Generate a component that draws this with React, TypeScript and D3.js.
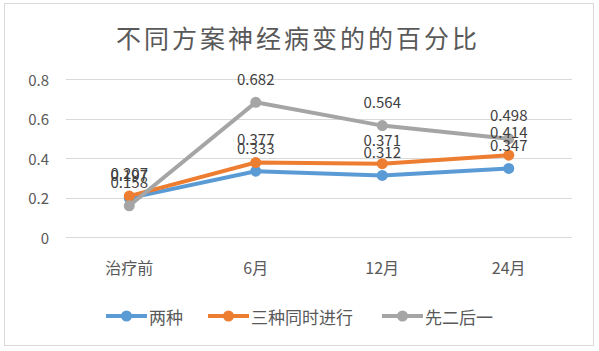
import { useEffect, useRef } from 'react';
import * as d3 from 'd3';

const categories = ['治疗前', '6月', '12月', '24月'];
const seriesNames = ['两种', '三种同时进行', '先二后一'];
const liangZhong = [0.197, 0.333, 0.312, 0.347];
const sanZhong = [0.207, 0.377, 0.371, 0.414];
const xianErHouYi = [0.158, 0.682, 0.564, 0.498];
const yTicks = [0, 0.2, 0.4, 0.6, 0.8];

const colors = ['#5B9BD5', '#ED7D31', '#A5A5A5'];
const FONT = '"Noto Sans CJK SC", "Noto Sans", sans-serif';

export default function App() {
    const svgRef = useRef<SVGSVGElement>(null);

    useEffect(() => {
        if (!svgRef.current) return;
        const svg = d3.select(svgRef.current);
        svg.selectAll('*').remove();

        const width = 599;
        const height = 351;
        const plot = { left: 66, right: 572, top: 79, bottom: 237 };
        const allSeries = [liangZhong, sanZhong, xianErHouYi];

        // chart frame
        svg.append('rect')
            .attr('x', 4.5).attr('y', 3.5)
            .attr('width', 589).attr('height', 342)
            .attr('fill', '#fff')
            .attr('stroke', '#d9d9d9')
            .attr('stroke-width', 1);

        // title
        svg.append('text')
            .attr('x', 298).attr('y', 37)
            .attr('text-anchor', 'middle')
            .attr('dominant-baseline', 'central')
            .attr('font-family', FONT)
            .attr('font-size', '25px')
            .attr('letter-spacing', '3px')
            .attr('fill', '#595959')
            .text('不同方案神经病变的的百分比');

        const xScale = d3.scaleBand()
            .domain(categories)
            .range([plot.left, plot.right]);

        const yScale = d3.scaleLinear()
            .domain([0, 0.8])
            .range([plot.bottom, plot.top]);

        const cx = (c: string) => (xScale(c) || 0) + xScale.bandwidth() / 2;

        // grid lines
        svg.append('g')
            .selectAll('line')
            .data(yTicks)
            .enter()
            .append('line')
            .attr('x1', plot.left).attr('x2', plot.right)
            .attr('y1', d => Math.round(yScale(d)) + 0.5)
            .attr('y2', d => Math.round(yScale(d)) + 0.5)
            .attr('stroke', '#d9d9d9')
            .attr('stroke-width', 1);

        // y tick labels
        svg.append('g')
            .selectAll('text')
            .data(yTicks)
            .enter()
            .append('text')
            .attr('x', 49)
            .attr('y', d => yScale(d))
            .attr('text-anchor', 'end')
            .attr('dominant-baseline', 'central')
            .attr('font-family', FONT)
            .attr('font-size', '15px')
            .attr('fill', '#595959')
            .text(d => (d === 0 ? '0' : d.toFixed(1)));

        // x labels
        svg.append('g')
            .selectAll('text')
            .data(categories)
            .enter()
            .append('text')
            .attr('x', d => cx(d))
            .attr('y', 267)
            .attr('text-anchor', 'middle')
            .attr('dominant-baseline', 'central')
            .attr('font-family', FONT)
            .attr('font-size', '16px')
            .attr('fill', '#595959')
            .text(d => d);

        const line = d3.line<number>()
            .x((_, i) => cx(categories[i]))
            .y(d => yScale(d));

        // lines + markers
        allSeries.forEach((values, si) => {
            svg.append('path')
                .datum(values)
                .attr('d', line)
                .attr('fill', 'none')
                .attr('stroke', colors[si])
                .attr('stroke-width', 4)
                .attr('stroke-linejoin', 'round')
                .attr('stroke-linecap', 'round');

            svg.append('g')
                .selectAll('circle')
                .data(values)
                .enter()
                .append('circle')
                .attr('cx', (_, i) => cx(categories[i]))
                .attr('cy', d => yScale(d))
                .attr('r', 5.5)
                .attr('fill', colors[si]);
        });

        // data labels
        allSeries.forEach(values => {
            svg.append('g')
                .selectAll('text')
                .data(values)
                .enter()
                .append('text')
                .attr('x', (_, i) => cx(categories[i]))
                .attr('y', d => yScale(d) - 24)
                .attr('text-anchor', 'middle')
                .attr('dominant-baseline', 'central')
                .attr('font-family', FONT)
                .attr('font-size', '15px')
                .attr('fill', '#404040')
                .text(d => d.toFixed(3));
        });

        // legend
        const legendX = [106, 208, 382];
        const legend = svg.append('g');
        seriesNames.forEach((name, i) => {
            const x0 = legendX[i];
            legend.append('line')
                .attr('x1', x0).attr('x2', x0 + 41)
                .attr('y1', 316).attr('y2', 316)
                .attr('stroke', colors[i])
                .attr('stroke-width', 4);
            legend.append('circle')
                .attr('cx', x0 + 20.5).attr('cy', 316)
                .attr('r', 5.5)
                .attr('fill', colors[i]);
            legend.append('text')
                .attr('x', x0 + 43)
                .attr('y', 316)
                .attr('dominant-baseline', 'central')
                .attr('font-family', FONT)
                .attr('font-size', '17px')
                .attr('fill', '#595959')
                .text(name);
        });

        svg.attr('width', width).attr('height', height);
    }, []);

    return (
        <svg
            ref={svgRef}
            width={599}
            height={351}
            style={{ position: 'absolute', left: 0, top: 0, background: '#fff' }}
        />
    );
}
